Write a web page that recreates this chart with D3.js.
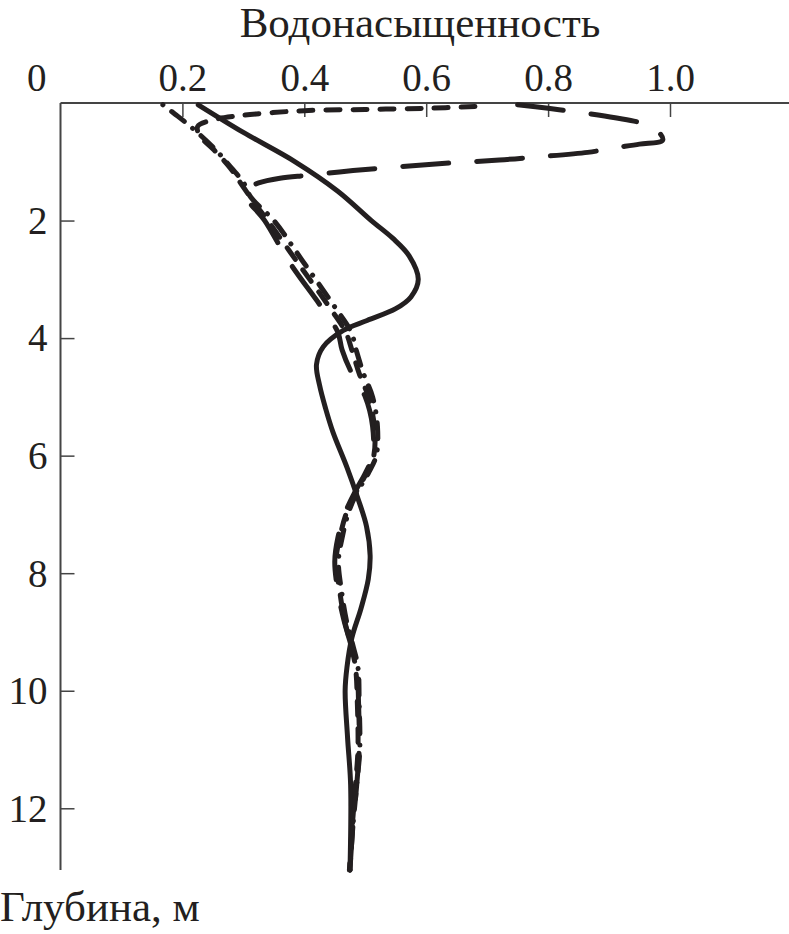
<!DOCTYPE html>
<html><head><meta charset="utf-8">
<script src="https://cdn.jsdelivr.net/npm/d3@7"></script>
<style>body{margin:0;background:#fff}svg{display:block}text{font-family:"Liberation Serif","Times New Roman",serif;fill:#231f20}</style>
</head><body><svg id="c" width="789" height="934"></svg>
<script>
const xTicks = [0.2, 0.4, 0.6, 0.8, 1.0];
const yTicks = [2, 4, 6, 8, 10, 12];
const xTitle = "Водонасыщенность";
const yTitle = "Глубина, м";

const depthSolid = [0.03,0.5,1.0,1.5,2.0,2.3,2.6,3.0,3.3,3.5,3.7,3.87,4.15,4.45,4.8,5.2,5.6,6.2,6.7,7.2,7.7,8.1,8.6,9.1,9.6,10.0,10.8,11.6,13.05];
const satSolid   = [0.226,0.30,0.385,0.455,0.51,0.545,0.572,0.587,0.575,0.55,0.503,0.464,0.431,0.42,0.425,0.435,0.447,0.47,0.487,0.502,0.508,0.505,0.493,0.478,0.47,0.467,0.471,0.476,0.475];

const depthLong = [0.03,0.09,0.15,0.25,0.375,0.5,0.63,0.7,0.77,0.84,0.92,0.97,1.02,1.08,1.15,1.23,1.28,1.36,1.45,1.6,2.0,2.7,3.5,3.9,4.2,4.6,5.0,5.5,6.0,6.3,6.6,6.95,7.4,7.8,8.3,8.8,9.2,9.6,10.2,11.0,11.6,12.4,13.05];
const satLong   = [0.75,0.80,0.845,0.91,0.964,0.982,0.988,0.95,0.905,0.865,0.778,0.72,0.64,0.56,0.48,0.405,0.36,0.325,0.308,0.305,0.335,0.375,0.43,0.455,0.462,0.478,0.5,0.512,0.512,0.5,0.484,0.468,0.455,0.45,0.455,0.465,0.476,0.486,0.489,0.49,0.486,0.479,0.475];

const depthShort = [0.06,0.09,0.11,0.13,0.17,0.22,0.3,0.4,0.55,0.8,1.1,1.4,1.7,2.0,2.7,3.5,3.9,4.2,4.6,5.0,5.5,6.0,6.3,6.6,6.95,7.4,7.8,8.3,8.8,9.2,9.6,10.2,11.0,11.6,12.4,13.05];
const satShort   = [0.68,0.6,0.5,0.4,0.34,0.29,0.245,0.225,0.228,0.252,0.278,0.298,0.318,0.34,0.388,0.443,0.468,0.478,0.49,0.505,0.515,0.514,0.502,0.486,0.47,0.458,0.452,0.458,0.466,0.476,0.484,0.487,0.488,0.484,0.478,0.474];

const depthDashDot = [0.03,0.19,0.32,0.46,0.8,1.1,1.35,1.6,2.0,2.7,3.5,3.9,4.2,4.6,5.0,5.5,6.0,6.3,6.6,6.95,7.4,7.8,8.3,8.8,9.2,9.6,10.2,11.0,11.6,12.4,13.05];
const satDashDot   = [0.168,0.188,0.204,0.22,0.255,0.28,0.30,0.312,0.35,0.398,0.452,0.477,0.485,0.497,0.512,0.52,0.518,0.505,0.488,0.473,0.462,0.456,0.461,0.469,0.479,0.488,0.49,0.491,0.486,0.479,0.475];

const series = [
  {depth: depthSolid, sat: satSolid, dash: null},
  {depth: depthLong, sat: satLong, dash: "46,28"},
  {depth: depthShort, sat: satShort, dash: "14,13"},
  {depth: depthDashDot, sat: satDashDot, dash: "0.1,11,16,11"}
];

const svg = d3.select("#c");
const x = d3.scaleLinear().domain([0, 1]).range([60.5, 670]);
const y = d3.scaleLinear().domain([0, 13.05]).range([103, 870]);
const ink = "#231f20";
const tickFont = 39;

const xAxis = d3.axisTop(x).tickValues(xTicks).tickSize(-14).tickPadding(24).tickFormat(d3.format(".1f"));
const gx = svg.append("g").attr("transform", `translate(0,${y(0)})`).call(xAxis);
gx.select(".domain").remove();
gx.selectAll(".tick line").attr("stroke", "#444").attr("stroke-width", 1.5);
gx.selectAll(".tick text").attr("font-size", tickFont).attr("dy", 0).attr("y", -12).attr("fill", ink);
svg.append("line").attr("x1", x(0)).attr("x2", 789).attr("y1", y(0)).attr("y2", y(0)).attr("stroke", "#444").attr("stroke-width", 2);

const yAxis = d3.axisLeft(y).tickValues(yTicks).tickSize(-14).tickPadding(16).tickFormat(d3.format("d"));
const gy = svg.append("g").attr("transform", `translate(${x(0)},0)`).call(yAxis);
gy.select(".domain").remove();
gy.selectAll(".tick line").attr("stroke", "#444").attr("stroke-width", 1.5);
gy.selectAll(".tick text").attr("font-size", tickFont).attr("x", -13).attr("dy", "0.33em").attr("fill", ink);
svg.append("line").attr("x1", x(0)).attr("x2", x(0)).attr("y1", y(0)).attr("y2", 870).attr("stroke", "#444").attr("stroke-width", 2);

svg.append("text").attr("x", x(0) - 14).attr("y", y(0) - 12).attr("text-anchor", "end").attr("font-size", tickFont).text("0");

svg.append("text").attr("x", 420).attr("y", 37).attr("text-anchor", "middle").attr("font-size", 43).text(xTitle);
svg.append("text").attr("x", 0).attr("y", 921).attr("font-size", 43).text(yTitle);

const line = d3.line().curve(d3.curveCatmullRom.alpha(0.5));
series.forEach(s => {
  const pts = s.depth.map((d, i) => [x(s.sat[i]), y(d)]);
  svg.append("path").attr("d", line(pts)).attr("fill", "none").attr("stroke", ink)
    .attr("stroke-width", 5).attr("stroke-linecap", "round").attr("stroke-linejoin", "round")
    .attr("stroke-dasharray", s.dash);
});
</script></body></html>
